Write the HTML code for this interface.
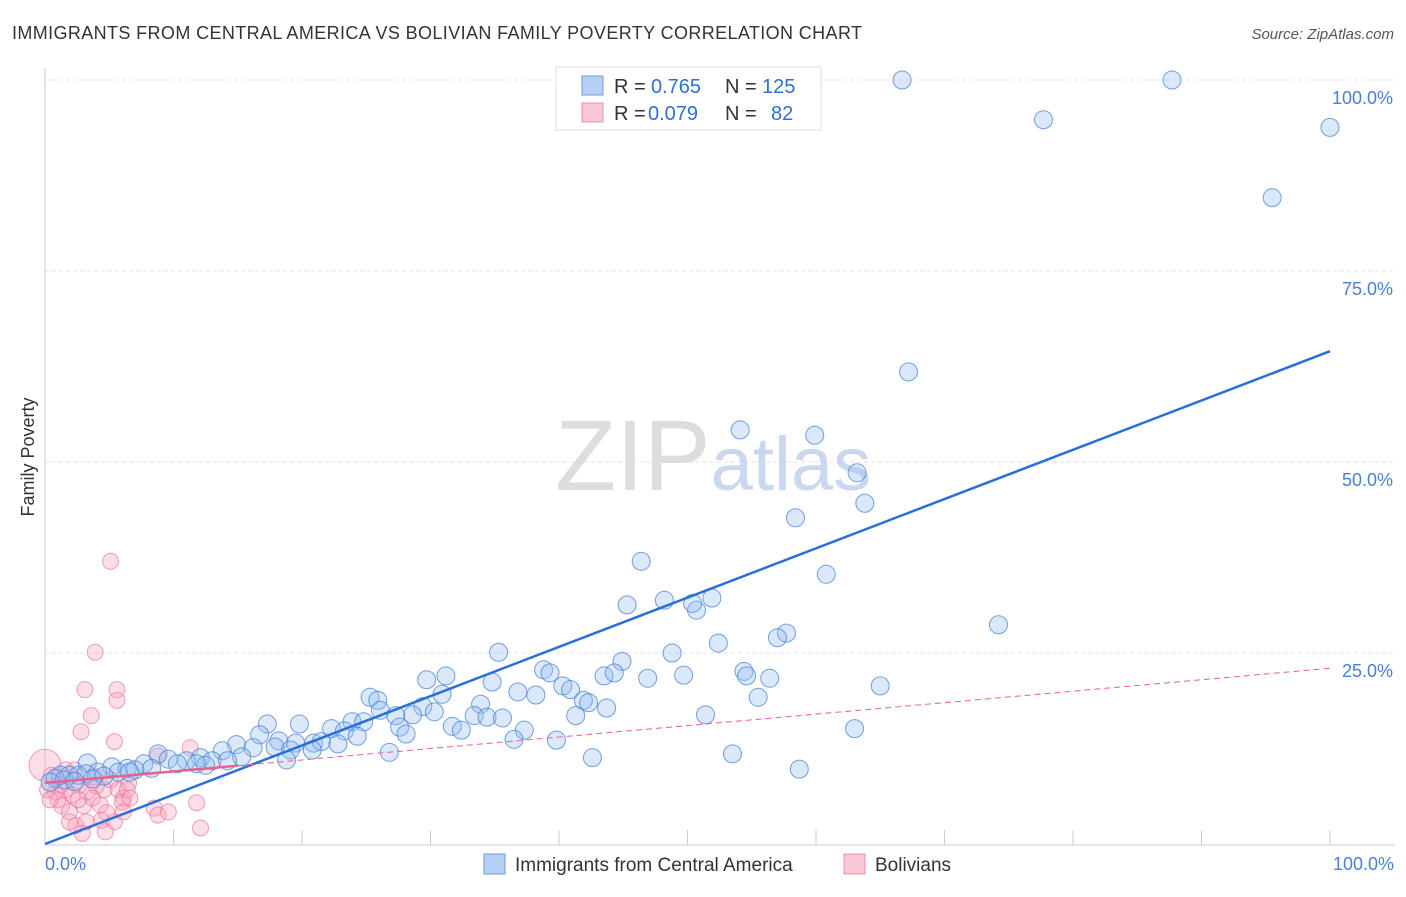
<!DOCTYPE html>
<html><head><meta charset="utf-8"><style>
body{margin:0;background:#fff;font-family:"Liberation Sans",sans-serif}
svg text{font-family:"Liberation Sans",sans-serif}
</style></head><body>
<svg id="chart" width="1406" height="892" xmlns="http://www.w3.org/2000/svg">
<text x="12" y="39" font-size="18" fill="#333" textLength="850" lengthAdjust="spacing">IMMIGRANTS FROM CENTRAL AMERICA VS BOLIVIAN FAMILY POVERTY CORRELATION CHART</text>
<text x="1394" y="39" font-size="15" fill="#555" text-anchor="end" font-style="italic">Source: ZipAtlas.com</text>
<text transform="translate(34,457) rotate(-90)" font-size="18" fill="#333" text-anchor="middle">Family Poverty</text>
<g id="grid"></g>
<text x="555" y="490" font-size="100" fill="#ddd" font-family="Liberation Serif">ZIP<tspan fill="#c9d8ef" font-family="Liberation Sans" font-size="76">atlas</tspan></text>
<g id="pts"></g>
<g id="lines"></g>
<g>
<rect x="556" y="67" width="265" height="63" fill="#fff" stroke="#ddd"/>
<rect x="582" y="76" width="21" height="19" fill="#b7d0f3" stroke="#6a9be0"/>
<rect x="582" y="103" width="21" height="19" fill="#f9c6d4" stroke="#ec8faa"/>
<text x="614" y="93" font-size="20" fill="#333">R =</text>
<text x="651" y="93" font-size="20" fill="#2f6fd6">0.765</text>
<text x="725" y="93" font-size="20" fill="#333">N =</text>
<text x="762" y="93" font-size="20" fill="#2f6fd6">125</text>
<text x="614" y="120" font-size="20" fill="#333">R =</text>
<text x="648" y="120" font-size="20" fill="#2f6fd6">0.079</text>
<text x="725" y="120" font-size="20" fill="#333">N =</text>
<text x="771" y="120" font-size="20" fill="#2f6fd6">82</text>
</g>
<g>
<rect x="484" y="854" width="21" height="20" fill="#b7d0f3" stroke="#6a9be0"/>
<text x="515" y="871" font-size="19" fill="#333">Immigrants from Central America</text>
<rect x="844" y="854" width="21" height="20" fill="#f9c6d4" stroke="#ec8faa"/>
<text x="875" y="871" font-size="19" fill="#333">Bolivians</text>
</g>
</svg>
<script>
const blueX=[66.7,87.7,77.7,100,95.5,67.2,54.1,59.9,63.2,63.8,58.4,46.4,60.8,45.3,48.2,50.7,51.9,50.4,74.2,57.7,57,52.4,35.3,48.8,44.9,38.8,39.3,43.5,44.3,46.9,49.7,54.4,54.6,56.4,65,34.8,29.7,31.2,40.3,40.9,36.8,38.2,41.9,42.3,55.5,25.3,25.9,30.9,33.9,29.4,26.1,30.3,43.7,41.3,51.4,28.6,27.3,33.4,34.4,35.6,17.3,19.8,23.9,24.8,31.7,32.4,37.3,22.3,23.3,27.6,28.1,63,16.7,24.3,39.8,36.5,14.9,18.2,19.5,20.9,21.5,22.8,16.2,17.9,19.1,20.8,13.8,26.8,53.5,8.8,15.3,9.6,12.1,11,13,14.2,18.8,42.6,3.3,7.7,10.3,11.8,5.2,6.4,7,8.3,12.5,4.1,5.7,6.6,58.7,1.2,1.9,2.6,3.2,4.6,0.8,1.5,0.4,2.3,3.7];
const blueY=[100,100,94.8,93.8,84.6,61.8,54.2,53.5,48.6,44.6,42.7,37,35.3,31.3,31.9,30.6,32.2,31.5,28.7,27.6,27,26.3,25.1,25,23.9,22.8,22.4,22,22.4,21.7,22.1,22.6,22,21.7,20.7,21.2,21.5,22,20.7,20.2,19.9,19.5,18.8,18.5,19.2,19.2,18.8,19.6,18.3,18,17.5,17.3,17.8,16.8,16.9,16.9,16.8,16.8,16.6,16.5,15.7,15.7,16,16,15.4,14.9,14.9,15.1,14.8,15.3,14.4,15.1,14.3,14.1,13.6,13.7,13,13.5,13.2,13.2,13.4,13.1,12.6,12.7,12.3,12.3,12.2,12,11.8,11.8,11.4,11.1,11.3,10.9,10.9,10.9,11,11.3,10.6,10.5,10.5,10.5,10.1,9.9,9.7,9.9,10.3,9.4,9.4,9.4,9.8,9,9,9,9.2,8.9,8.6,8.4,8.1,8.2,8.5];
const pinkX=[5.1,3.9,3.1,5.6,5.6,3.6,2.8,5.4,8.8,11.3,0,0.5,1.2,1.6,2.1,1,2.7,3.3,4,4.6,0.8,1.3,1.9,3,3.7,4.3,5.1,5.7,6.1,6.5,4.4,5.4,2.4,3.2,4.7,2.9,1.9,4.8,6,6.1,6.4,8.5,8.8,9.6,11.8,12.1,6.6,2.6,0.2,0.4,1.6,2.3,3.9];
const pinkY=[37,25.1,20.2,20.2,18.8,16.8,14.7,13.4,11.5,12.6,10.3,9,7.7,7.1,6.4,5.8,7.7,6.8,7.6,7.1,6.8,5,4.2,5,6,5.1,8.4,7.1,6,8,3.1,2.9,2.4,2.9,1.6,1.4,2.9,4.1,5.5,4.2,7.1,4.7,3.8,4.2,5.4,2.1,6,5.8,7.1,5.8,9.7,9.7,8.8];
const yTicks=[25,50,75,100];
const xTickVals=[0,10,20,30,40,50,60,70,80,90,100];
const blueFit=[0,64.5], pinkFit=[8,15];
const NS='http://www.w3.org/2000/svg';
const X=v=>45+v*12.85, Y=v=>844-v*7.64;
function mk(p,t,a){const e=document.createElementNS(NS,t);for(const k in a)e.setAttribute(k,a[k]);p.appendChild(e);return e;}
const g=document.getElementById('grid');
mk(g,'line',{x1:45,y1:68,x2:45,y2:845,stroke:'#ccc'});
mk(g,'line',{x1:45,y1:845,x2:1395,y2:845,stroke:'#ccc'});
yTicks.forEach(t=>{
 const l=mk(g,'line',{x1:45,y1:Y(t),x2:1395,y2:Y(t),stroke:'#e2e2e2','stroke-dasharray':'4,3'});
 
 
 const tx=mk(g,'text',{x:1393,y:Y(t)+24,'font-size':18,fill:'#4a7fd6','text-anchor':'end'});
 tx.textContent=t.toFixed(1)+'%';
 
 
});
xTickVals.forEach(t=>{if(t>0){const l=mk(g,'line',{x1:X(t),y1:830,x2:X(t),y2:845,stroke:'#ccc'});
 
 }});
[[0,'start',45],[100,'end',1394]].forEach(([v,a,x])=>{const tx=mk(g,'text',{x:x,y:870,'font-size':18,fill:'#4a7fd6','text-anchor':a});tx.textContent=v.toFixed(1)+'%';
 
 });
const P=document.getElementById('pts');
pinkX.forEach((v,i)=>{const c=mk(P,'circle',{cx:X(v),cy:Y(pinkY[i]),r:i==10?16:8,fill:'rgba(246,160,186,0.35)',stroke:'rgba(236,120,155,0.7)','stroke-width':1});
 
 });
blueX.forEach((v,i)=>{const c=mk(P,'circle',{cx:X(v),cy:Y(blueY[i]),r:9,fill:'rgba(150,190,240,0.35)',stroke:'rgba(70,130,215,0.75)','stroke-width':1});
 
 });
const L=document.getElementById('lines');
const b=mk(L,'line',{x1:X(0),y1:Y(blueFit[0]),x2:X(100),y2:Y(blueFit[0]+blueFit[1]),stroke:'#2a6fd8','stroke-width':2.5});


const p1=mk(L,'line',{x1:X(0),y1:Y(pinkFit[0]),x2:X(15),y2:Y(pinkFit[0]+pinkFit[1]*0.15),stroke:'#e8618a','stroke-width':2.5});


const p2=mk(L,'line',{x1:X(15),y1:Y(pinkFit[0]+pinkFit[1]*0.15),x2:X(100),y2:Y(pinkFit[0]+pinkFit[1]),stroke:'#e8618a','stroke-width':1,'stroke-dasharray':'6,4'});


</script>
</body></html>
